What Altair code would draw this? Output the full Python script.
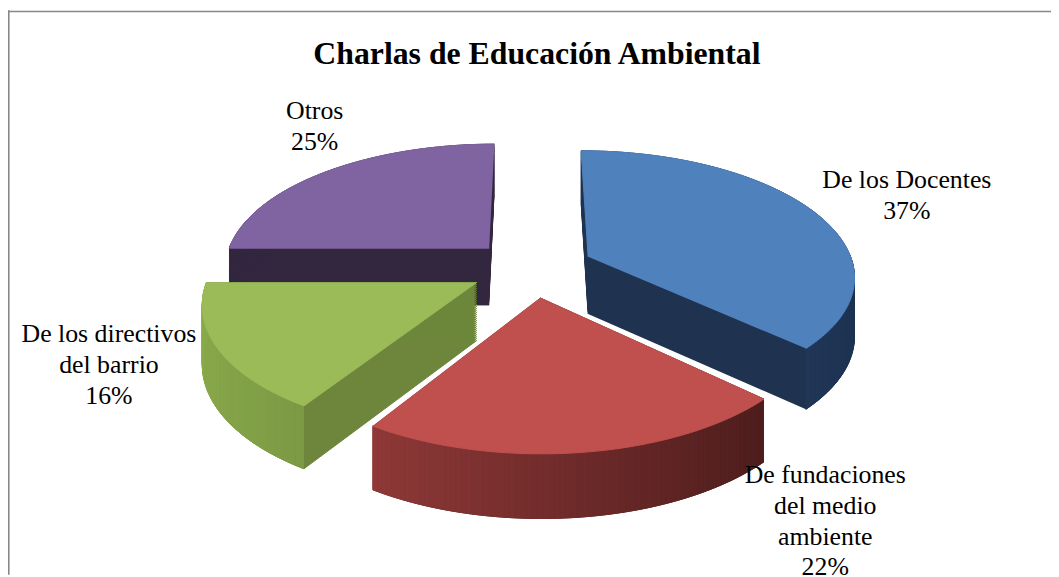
import altair as alt
import pandas as pd

# ---- data ----
categories = ["De los Docentes", "De fundaciones del medio ambiente",
              "De los directivos del barrio", "Otros"]
label_lines = ["De los Docentes", "De fundaciones\ndel medio\nambiente",
               "De los directivos\ndel barrio", "Otros"]
values = [37, 22, 16, 25]
title_text = "Charlas de Educación Ambiental"

# ---- styling ----
top_colors = ["#4F81BD", "#C0504D", "#9BBB59", "#8064A2"]
side_colors = ["#1F3350", "#5A2322", "#6D863B", "#32273F"]
# outer wall shading: (light rgb, dark rgb)
wall_colors = [((58, 92, 140), (29, 49, 80)),
               ((166, 67, 65), (64, 23, 23)),
               ((138, 170, 76), (79, 99, 41)),
               ((50, 39, 63), (50, 39, 63))]
draw_order = [3, 0, 2, 1]
label_nudge = {0: (17, 0), 1: (226, -2), 2: (-4, -11), 3: (42, -21)}

W, H = 1051, 569
CX, CY = 528, 260      # pie centre
A, B = 268, 125.2      # ellipse semi-axes
P = 0.143              # perspective
E = 0.233              # explosion
D = 58                 # depth
N = 64                 # arc steps
NW = 80                # wall steps
M = 29                 # depth copies
RL = 1.6               # label radius
FONT = "Liberation Serif"
LH = 31

df = pd.DataFrame({"cat": categories, "label": label_lines,
                   "value": values, "idx": list(range(len(values)))})

base = (
    alt.Chart(df)
    .transform_joinaggregate(total="sum(value)")
    .transform_window(cum="sum(value)", sort=[alt.SortField("idx")], frame=[None, 0])
    .transform_calculate(t0="2*PI*(datum.cum - datum.value)/datum.total")
    .transform_calculate(t1="2*PI*datum.cum/datum.total")
    .transform_calculate(mid="(datum.t0 + datum.t1)/2")
    .transform_calculate(pct="format(datum.value/datum.total, '.0%')")
)

xs = alt.X("px:Q", scale=alt.Scale(domain=[0, W], range=[0, W], nice=False, zero=False), axis=None)
ys = alt.Y("py:Q", scale=alt.Scale(domain=[0, H], range=[0, H], nice=False, zero=False), axis=None)


def project(c, depth_expr):
    return (
        c.transform_calculate(s=f"1/(1 - {P}*datum.Z)")
        .transform_calculate(px=f"{CX} + datum.s*datum.X*{A}")
        .transform_calculate(py=f"{CY} + datum.s*datum.Z*{B} + ({depth_expr})*{D}*pow(datum.s, 0.6)")
    )


def slice_layer(i, side):
    c = base.transform_filter(f"datum.idx == {i}")
    c = c.transform_calculate(k=f"sequence(0, {N + 2})").transform_flatten(["k"])
    if side:
        c = c.transform_calculate(f=f"sequence(0, {M + 1})").transform_flatten(["f"])
    else:
        c = c.transform_calculate(f="0")
    c = (
        c.transform_calculate(th=f"datum.k == 0 ? 0 : datum.t0 + (datum.t1 - datum.t0)*(datum.k - 1)/{N}")
        .transform_calculate(X=f"{E}*sin(datum.mid) + (datum.k == 0 ? 0 : sin(datum.th))")
        .transform_calculate(Z=f"-{E}*cos(datum.mid) - (datum.k == 0 ? 0 : cos(datum.th))")
    )
    c = project(c, f"datum.f/{M}")
    col = side_colors[i] if side else top_colors[i]
    return c.mark_line(fill=col, stroke=col, strokeWidth=1, strokeJoin="round").encode(
        x=xs, y=ys, order=alt.Order("k:Q"), detail="f:Q"
    )


def wall_layer(i):
    (lr, lg, lb), (dr, dg, db) = wall_colors[i]
    c = (
        base.transform_filter(f"datum.idx == {i}")
        .transform_calculate(k=f"sequence(0, {NW})").transform_flatten(["k"])
        .transform_calculate(j="sequence(0, 4)").transform_flatten(["j"])
        .transform_calculate(kk="datum.k + ((datum.j == 1 || datum.j == 2) ? 1 : 0)")
        .transform_calculate(f="datum.j >= 2 ? 1 : 0")
        .transform_calculate(th=f"datum.t0 + (datum.t1 - datum.t0)*datum.kk/{NW}")
        .transform_calculate(thm=f"datum.t0 + (datum.t1 - datum.t0)*(datum.k + 0.5)/{NW}")
        .transform_filter("cos(datum.thm) < 0.03")
        .transform_calculate(X=f"{E}*sin(datum.mid) + sin(datum.th)")
        .transform_calculate(Z=f"-{E}*cos(datum.mid) - cos(datum.th)")
        .transform_calculate(tt="(sin(datum.thm) + 1)/2")
        .transform_calculate(
            col=(f"'rgb(' + round({lr} + ({dr} - {lr})*datum.tt) + ',' + "
                 f"round({lg} + ({dg} - {lg})*datum.tt) + ',' + "
                 f"round({lb} + ({db} - {lb})*datum.tt) + ')'"))
    )
    c = project(c, "datum.f")
    return c.mark_line(strokeWidth=1, strokeJoin="round").encode(
        x=xs, y=ys, order=alt.Order("j:Q"), detail="k:Q",
        fill=alt.Fill("col:N", scale=None), stroke=alt.Stroke("col:N", scale=None)
    )


def label_layer(i):
    dx, dy = label_nudge[i]
    nlines = label_lines[i].count("\n") + 2
    c = (
        base.transform_filter(f"datum.idx == {i}")
        .transform_calculate(X=f"{RL}*sin(datum.mid)")
        .transform_calculate(Z=f"-{RL}*cos(datum.mid)")
    )
    c = project(c, "0")
    c = c.transform_calculate(txt="datum.label + '\\n' + datum.pct")
    return c.mark_text(font=FONT, fontSize=26, lineHeight=LH, align="center",
                       baseline="middle", color="black", lineBreak="\n",
                       dx=dx, dy=dy - (nlines - 1) * LH / 2).encode(x=xs, y=ys, text="txt:N")


layers = []
for i in draw_order:
    layers.append(slice_layer(i, True))
    layers.append(wall_layer(i))
    layers.append(slice_layer(i, False))
for i in range(len(values)):
    layers.append(label_layer(i))

tdf = pd.DataFrame({"t": [title_text]})
title = alt.Chart(tdf).mark_text(font=FONT, fontSize=32, fontWeight="bold", align="center",
                                 baseline="alphabetic", color="black").encode(
    text="t:N", x=alt.value(533), y=alt.value(54))
border_left = alt.Chart(tdf).mark_rule(color="#878787", strokeWidth=1.6).encode(
    x=alt.value(0.8), y=alt.value(0), y2=alt.value(H))
border_top = alt.Chart(tdf).mark_rule(color="#878787", strokeWidth=1.6).encode(
    y=alt.value(1.3), x=alt.value(0), x2=alt.value(W))

chart = alt.layer(border_left, border_top, title, *layers).properties(
    width=W, height=H, autosize="none", padding=0, background="white"
).configure_view(stroke=None)

chart.save("out.html", embed_options={"renderer": "svg", "actions": False})
